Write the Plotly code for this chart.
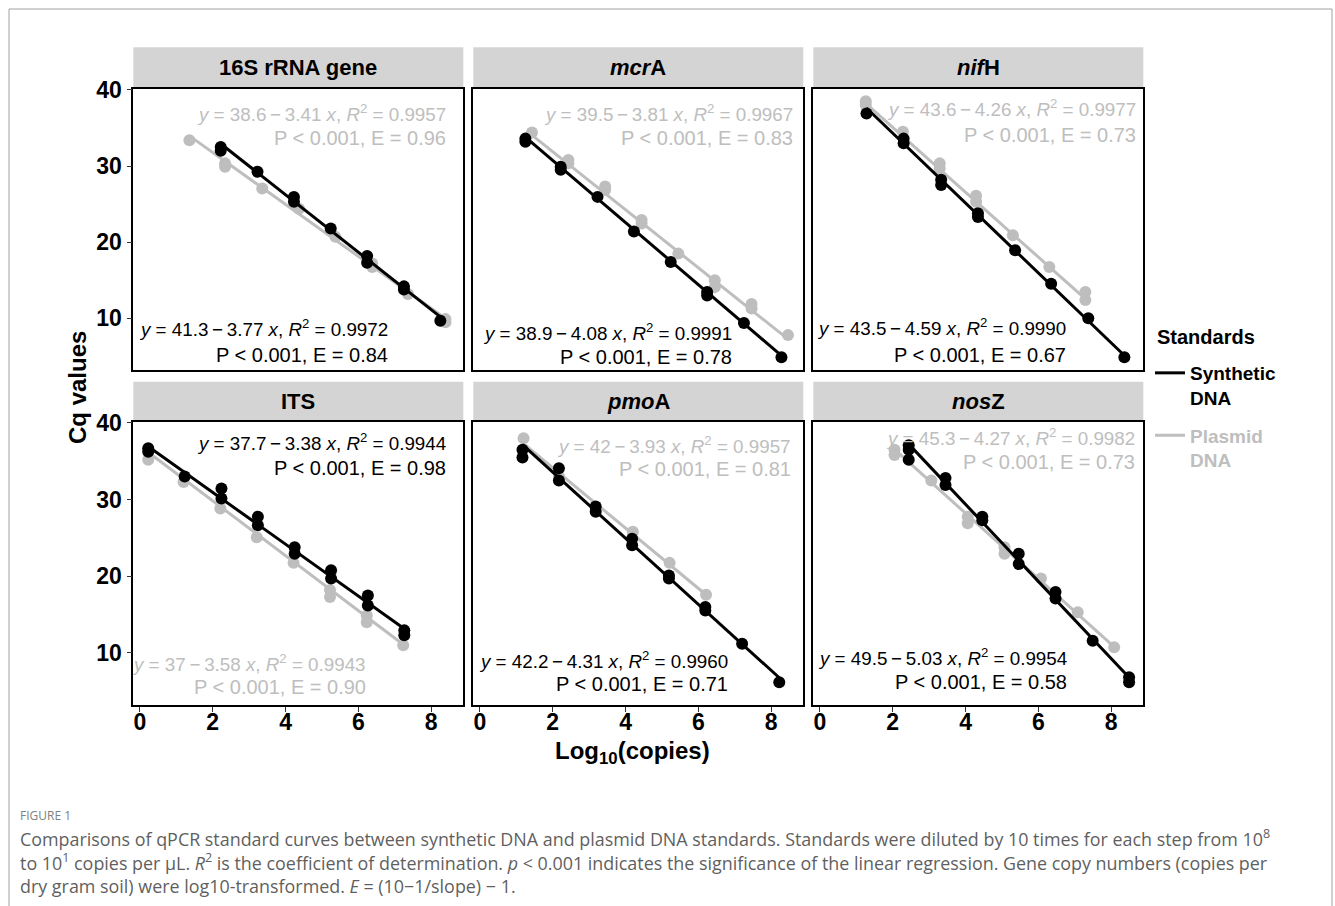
import plotly.graph_objects as go

# ---------------- data ----------------
GENES = ["16S rRNA gene", "<i>mcr</i>A", "<i>nif</i>H", "ITS", "<i>pmo</i>A", "<i>nos</i>Z"]

SYN_X_16S = [2.22, 2.22, 3.23, 4.23, 4.23, 5.24, 6.24, 6.24, 7.25, 7.25, 8.25]
SYN_Y_16S = [32.5, 32.0, 29.25, 25.95, 25.3, 21.8, 18.2, 17.3, 14.2, 13.8, 9.7]
PLA_X_16S = [1.36, 2.34, 2.34, 3.36, 4.37, 5.37, 6.38, 6.38, 7.36, 8.39, 8.39]
PLA_Y_16S = [33.4, 30.35, 29.9, 27.05, 24.4, 20.7, 17.2, 16.75, 13.2, 9.5, 9.9]

SYN_X_MCRA = [1.25, 1.25, 2.22, 2.22, 3.23, 4.23, 5.24, 6.24, 6.24, 7.25, 8.28]
SYN_Y_MCRA = [33.6, 33.2, 29.9, 29.5, 25.95, 21.4, 17.4, 13.45, 13.0, 9.4, 4.9]
PLA_X_MCRA = [1.43, 2.43, 2.43, 3.44, 3.44, 4.44, 4.44, 5.45, 6.45, 6.45, 7.46, 7.46, 8.46]
PLA_Y_MCRA = [34.4, 30.8, 30.35, 27.3, 26.85, 22.9, 22.45, 18.5, 15.0, 14.1, 11.9, 11.3, 7.8]

SYN_X_NIFH = [1.28, 2.3, 2.3, 3.33, 3.33, 4.34, 4.34, 5.36, 6.35, 7.37, 8.36]
SYN_Y_NIFH = [36.9, 33.6, 33.0, 28.2, 27.5, 23.8, 23.3, 18.95, 14.55, 10.0, 4.9]
PLA_X_NIFH = [1.26, 1.26, 2.28, 3.29, 3.29, 4.29, 4.29, 5.3, 6.3, 7.29, 7.29]
PLA_Y_NIFH = [38.5, 38.0, 34.5, 30.35, 29.7, 26.1, 25.3, 20.9, 16.75, 13.45, 12.4]

SYN_X_ITS = [0.23, 0.23, 1.23, 2.24, 2.24, 3.24, 3.24, 4.25, 4.25, 5.25, 5.25, 6.26, 6.26, 7.26, 7.26]
SYN_Y_ITS = [36.7, 36.25, 33.0, 31.45, 30.15, 27.75, 26.65, 23.8, 22.95, 20.8, 19.7, 17.5, 16.2, 12.95, 12.3]
PLA_X_ITS = [0.23, 1.2, 2.21, 3.21, 4.22, 5.22, 5.22, 6.23, 6.23, 7.23]
PLA_Y_ITS = [35.2, 32.3, 28.85, 25.1, 21.75, 18.2, 17.3, 14.9, 14.0, 11.0]

SYN_X_PMOA = [1.17, 1.17, 2.17, 2.17, 3.18, 3.18, 4.18, 4.18, 5.19, 5.19, 6.19, 6.19, 7.2, 8.22]
SYN_Y_PMOA = [36.5, 35.5, 34.1, 32.5, 29.1, 28.4, 24.9, 24.05, 20.1, 19.7, 16.0, 15.55, 11.2, 6.2]
PLA_X_PMOA = [1.2, 2.17, 3.18, 4.2, 5.21, 6.21]
PLA_Y_PMOA = [38.0, 33.0, 28.85, 25.8, 21.75, 17.6]

SYN_X_NOSZ = [2.44, 2.44, 2.44, 3.45, 3.45, 4.46, 4.46, 5.46, 5.46, 6.47, 6.47, 7.49, 8.49, 8.49]
SYN_Y_NOSZ = [37.1, 36.5, 35.2, 32.8, 31.9, 27.75, 27.3, 22.95, 21.6, 17.95, 17.1, 11.6, 6.85, 6.2]
PLA_X_NOSZ = [2.05, 2.05, 3.06, 4.06, 4.06, 5.07, 5.07, 6.07, 7.08, 8.08]
PLA_Y_NOSZ = [36.5, 35.8, 32.5, 27.75, 26.9, 23.8, 22.95, 19.7, 15.3, 10.75]

# regression results (synthetic / plasmid) per gene
SYN_INTERCEPT = [41.3, 38.9, 43.5, 37.7, 42.2, 49.5]
SYN_SLOPE = [-3.77, -4.08, -4.59, -3.38, -4.31, -5.03]
SYN_R2 = [0.9972, 0.9991, 0.9990, 0.9944, 0.9960, 0.9954]
SYN_E = [0.84, 0.78, 0.67, 0.98, 0.71, 0.58]
PLA_INTERCEPT = [38.6, 39.5, 43.6, 37, 42, 45.3]
PLA_SLOPE = [-3.41, -3.81, -4.26, -3.58, -3.93, -4.27]
PLA_R2 = [0.9957, 0.9967, 0.9977, 0.9943, 0.9957, 0.9982]
PLA_E = [0.96, 0.83, 0.73, 0.90, 0.81, 0.73]

X_TICKS = [0, 2, 4, 6, 8]
Y_TICKS = [10, 20, 30, 40]

SYN_X = [SYN_X_16S, SYN_X_MCRA, SYN_X_NIFH, SYN_X_ITS, SYN_X_PMOA, SYN_X_NOSZ]
SYN_Y = [SYN_Y_16S, SYN_Y_MCRA, SYN_Y_NIFH, SYN_Y_ITS, SYN_Y_PMOA, SYN_Y_NOSZ]
PLA_X = [PLA_X_16S, PLA_X_MCRA, PLA_X_NIFH, PLA_X_ITS, PLA_X_PMOA, PLA_X_NOSZ]
PLA_Y = [PLA_Y_16S, PLA_Y_MCRA, PLA_Y_NIFH, PLA_Y_ITS, PLA_Y_PMOA, PLA_Y_NOSZ]

# ---------------- layout constants ----------------
W, H = 1335, 906
FONT = "Liberation Sans"
BLACK = "#000000"
GREY = "#BEBEBE"


def px(x):
    return x / W


def py(y):
    return 1 - y / H


COL_PX = [(133.3, 463.3), (473.3, 803.3), (813.3, 1143.3)]
ROW_PX = [(88.5, 370.0), (421.5, 705.0)]
STRIP_PX = [(47.3, 88.5), (381.7, 421.5)]
X_RANGE = [-0.18, 8.88]
Y_RANGE = [3.22, 40.18]

# label positions: (right edge px, line1 y px, line2 y px)
SYN_LABEL_POS = [(390, 328, 355), (734, 332, 357), (1068, 327, 355),
                 (448, 442, 468), (730, 660, 684), (1069, 657, 682)]
PLA_LABEL_POS = [(448, 113, 138), (795, 113, 138), (1138, 108, 135),
                 (368, 663, 687), (793, 445, 469), (1137, 437, 462)]

fig = go.Figure()
annotations = []
shapes = []
layout_axes = {}

for i, gene in enumerate(GENES):
    r, c = divmod(i, 3)
    n = "" if i == 0 else str(i + 1)
    xa, ya = "x" + n, "y" + n
    xl, xr = COL_PX[c]
    yt, yb = ROW_PX[r]
    bottom = r == 1
    left = c == 0
    layout_axes["xaxis" + n] = dict(
        domain=[px(xl), px(xr)], anchor=ya, range=X_RANGE, automargin=False,
        tickvals=X_TICKS, showticklabels=bottom, ticks="outside" if bottom else "",
        ticklen=5, tickwidth=1.2, tickcolor="#333333",
        tickfont=dict(family=FONT, size=23, color=BLACK, weight="bold"),
        showgrid=False, zeroline=False, showline=True, mirror=True,
        linecolor=BLACK, linewidth=1.6,
    )
    layout_axes["yaxis" + n] = dict(
        domain=[py(yb), py(yt)], anchor=xa, range=Y_RANGE, automargin=False,
        tickvals=Y_TICKS, showticklabels=left, ticks="outside" if left else "",
        ticklen=5, tickwidth=1.2, tickcolor="#333333",
        tickfont=dict(family=FONT, size=23, color=BLACK, weight="bold"),
        showgrid=False, zeroline=False, showline=True, mirror=True,
        linecolor=BLACK, linewidth=1.6,
    )

    for kind in ("pla", "syn"):
        if kind == "syn":
            xs, ys, a, b = SYN_X[i], SYN_Y[i], SYN_INTERCEPT[i], SYN_SLOPE[i]
            color, name, rank = BLACK, "Synthetic<br>DNA", 1
        else:
            xs, ys, a, b = PLA_X[i], PLA_Y[i], PLA_INTERCEPT[i], PLA_SLOPE[i]
            color, name, rank = GREY, "<span style='color:#BEBEBE'>Plasmid</span><br><span style='color:#BEBEBE'>DNA</span>", 2
        fig.add_trace(go.Scatter(
            x=xs, y=ys, mode="markers", xaxis=xa, yaxis=ya,
            marker=dict(size=12, color=color), showlegend=False, hoverinfo="skip",
        ))
        x0, x1 = min(xs), max(xs)
        fig.add_trace(go.Scatter(
            x=[x0, x1], y=[a + b * x0, a + b * x1], mode="lines", xaxis=xa, yaxis=ya,
            line=dict(color=color, width=3), name=name, legendrank=rank,
            showlegend=(i == 0), legendgroup=kind,
        ))

    # equation labels
    for kind in ("syn", "pla"):
        if kind == "syn":
            a, b, r2, e = SYN_INTERCEPT[i], SYN_SLOPE[i], SYN_R2[i], SYN_E[i]
            color, pos = BLACK, SYN_LABEL_POS[i]
        else:
            a, b, r2, e = PLA_INTERCEPT[i], PLA_SLOPE[i], PLA_R2[i], PLA_E[i]
            color, pos = GREY, PLA_LABEL_POS[i]
        line1 = f"<i>y</i> = {a:g}\u2009\u2212\u2009{abs(b):.2f} <i>x</i>, <i>R</i><sup>2</sup> = {r2:.4f}"
        line2 = f"P < 0.001, E = {e:.2f}"
        for txt, yy, fs in ((line1, pos[1], 18.8), (line2, pos[2], 20)):
            annotations.append(dict(
                text=txt, x=px(pos[0]), y=py(yy), xref="paper", yref="paper",
                xanchor="right", yanchor="middle", showarrow=False,
                font=dict(family=FONT, size=fs, color=color),
            ))

    # facet strip
    sy0, sy1 = STRIP_PX[r]
    shapes.append(dict(type="rect", xref="paper", yref="paper",
                       x0=px(xl), x1=px(xr), y0=py(sy1), y1=py(sy0),
                       fillcolor="#D4D4D4", line=dict(width=0), layer="below"))
    annotations.append(dict(
        text=gene, x=px((xl + xr) / 2), y=py((sy0 + sy1) / 2), xref="paper", yref="paper",
        xanchor="center", yanchor="middle", showarrow=False,
        font=dict(family=FONT, size=22, color=BLACK, weight="bold"),
    ))

# axis titles
annotations.append(dict(
    text="Cq values", x=px(78), y=py(388), xref="paper", yref="paper",
    textangle=-90, showarrow=False, xanchor="center", yanchor="middle",
    font=dict(family=FONT, size=24, color=BLACK, weight="bold"),
))
annotations.append(dict(
    text="Log<sub>10</sub>(copies)", x=px(632), y=py(752), xref="paper", yref="paper",
    showarrow=False, xanchor="center", yanchor="middle",
    font=dict(family=FONT, size=24, color=BLACK, weight="bold"),
))

# legend title (drawn as text so its spacing can match)
annotations.append(dict(
    text="Standards", x=px(1155), y=py(337), xref="paper", yref="paper",
    showarrow=False, xanchor="left", yanchor="middle",
    font=dict(family=FONT, size=20, color=BLACK, weight="bold"),
))

# caption
CAP_FONT = "Open Sans"
annotations.append(dict(
    text="FIGURE 1", x=px(18), y=py(815), xref="paper", yref="paper",
    showarrow=False, xanchor="left", yanchor="middle",
    font=dict(family=CAP_FONT, size=12, color="#808080"),
))
CAPTION = [
    "Comparisons of qPCR standard curves between synthetic DNA and plasmid DNA standards. Standards were diluted by 10 times for each step from 10<sup>8</sup>",
    "to 10<sup>1</sup> copies per \u03bcL. <i>R</i><sup>2</sup> is the coefficient of determination. <i>p</i> < 0.001 indicates the significance of the linear regression. Gene copy numbers (copies per",
    "dry gram soil) were log10-transformed. <i>E</i> = (10\u22121/slope) \u2212 1.",
]
for k, line in enumerate(CAPTION):
    annotations.append(dict(
        text=line, x=px(18), y=py(838 + 24 * k), xref="paper", yref="paper",
        showarrow=False, xanchor="left", yanchor="middle",
        font=dict(family=CAP_FONT, size=17.9, color="#5f5f5f"),
    ))

# outer frame
shapes.append(dict(type="rect", xref="paper", yref="paper",
                   x0=px(9), x1=px(1332), y0=py(930), y1=py(9),
                   line=dict(color="#A0A0A0", width=1), fillcolor="rgba(0,0,0,0)"))

fig.update_layout(
    width=W, height=H, autosize=False,
    margin=dict(l=0, r=0, t=0, b=0, pad=0, autoexpand=False),
    paper_bgcolor="white", plot_bgcolor="white",
    annotations=annotations, shapes=shapes,
    legend=dict(
        x=px(1150), y=py(354), xanchor="left", yanchor="top", valign="top",
        font=dict(family=FONT, size=19, color=BLACK, weight="bold"),
        bgcolor="rgba(0,0,0,0)", itemwidth=30, tracegroupgap=10,
    ),
    **layout_axes,
)

try:
    fig.update_xaxes(ticklabelstandoff=-9)
except ValueError:
    pass

fig.write_html("out.html")
